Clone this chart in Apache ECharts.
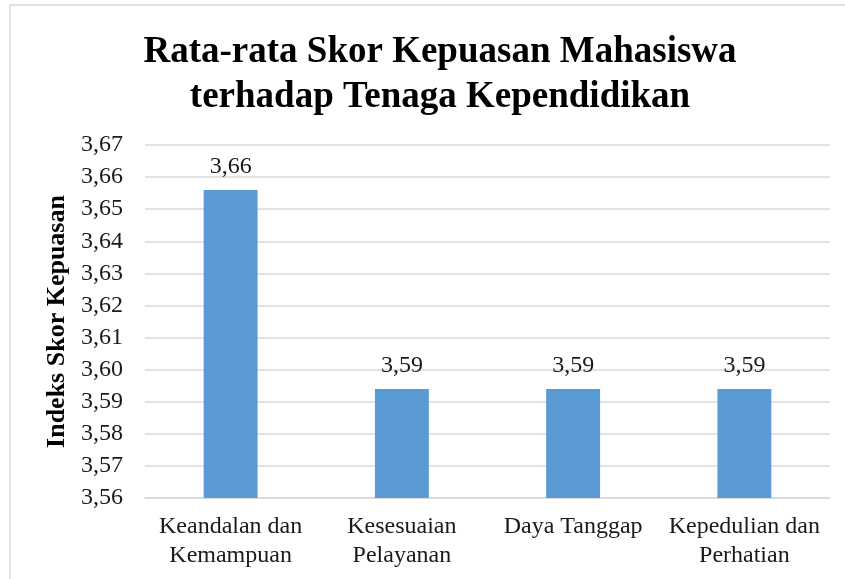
<!DOCTYPE html>
<html>
<head>
<meta charset="utf-8">
<script src="https://cdn.jsdelivr.net/npm/echarts@6/dist/echarts.min.js"></script>
<style>
  html, body { margin: 0; padding: 0; background: #fff; }
  #chart { width: 845px; height: 579px; }
</style>
</head>
<body>
<div id="chart"></div>
<script>
  // data
  const categories = ["Keandalan dan\nKemampuan", "Kesesuaian\nPelayanan", "Daya Tanggap", "Kepedulian dan\nPerhatian"];
  const scores = [3.656, 3.594, 3.594, 3.594];
  const yMin = 3.56, yMax = 3.67, yStep = 0.01;

  const serif = '"Liberation Serif", "DejaVu Serif", serif';
  const comma = v => v.toFixed(2).replace(".", ",");

  const myChart = echarts.init(document.getElementById("chart"));
  const option = {
    animation: false,
    backgroundColor: "#fff",
    graphic: [{
      type: "rect",
      shape: { x: 10, y: 5, width: 900, height: 700 },
      style: { fill: "none", stroke: "#d9d9d9", lineWidth: 1.5 }
    }],
    title: {
      text: "Rata-rata Skor Kepuasan Mahasiswa\nterhadap Tenaga Kependidikan",
      left: 435,
      top: 25,
      textAlign: "center",
      textStyle: {
        fontFamily: serif,
        fontWeight: "bold",
        fontSize: 37,
        lineHeight: 45,
        color: "#000"
      }
    },
    grid: { left: 145, right: 15, top: 145, bottom: 81 },
    xAxis: {
      type: "category",
      data: categories,
      axisLine: { lineStyle: { color: "#d9d9d9", width: 1.5 } },
      axisTick: { show: false },
      axisLabel: {
        margin: 14,
        interval: 0,
        fontFamily: serif,
        fontSize: 24,
        lineHeight: 29,
        color: "#1a1a1a"
      }
    },
    yAxis: {
      type: "value",
      min: yMin,
      max: yMax,
      interval: yStep,
      name: "Indeks Skor Kepuasan",
      nameLocation: "middle",
      nameGap: 69,
      nameTextStyle: {
        fontFamily: serif,
        fontWeight: "bold",
        fontSize: 26,
        color: "#000"
      },
      axisLine: { show: false },
      axisTick: { show: false },
      splitLine: { lineStyle: { color: "#d9d9d9", width: 1.5 } },
      axisLabel: {
        margin: 22,
        fontFamily: serif,
        fontSize: 24,
        color: "#1a1a1a",
        formatter: v => comma(v)
      }
    },
    series: [{
      type: "bar",
      data: scores,
      barWidth: "31.5%",
      itemStyle: { color: "#5b9bd5" },
      label: {
        show: true,
        position: "top",
        distance: 11,
        fontFamily: serif,
        fontSize: 24,
        color: "#1a1a1a",
        formatter: p => comma(p.value)
      }
    }]
  };
  myChart.clear();
  myChart.setOption(option);
</script>
</body>
</html>
